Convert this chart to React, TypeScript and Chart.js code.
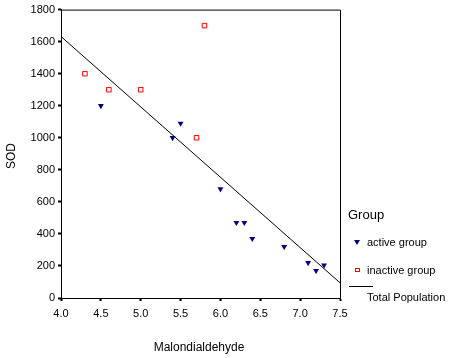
import React, { useEffect, useRef } from "react";
import { Chart, registerables } from "chart.js";

Chart.register(...registerables);

// Data
const activeX = [4.5, 5.4, 5.5, 6.0, 6.2, 6.3, 6.4, 6.8, 7.1, 7.2, 7.3];
const activeY = [1200, 1000, 1090, 680, 470, 470, 370, 320, 220, 170, 205];
const inactiveX = [4.3, 4.6, 5.0, 5.7, 5.8];
const inactiveY = [1400, 1300, 1300, 1000, 1700];
const fitX = [4.0, 7.5];
const fitY = [1632, 95];

const xTitle = "Malondialdehyde";
const yTitle = "SOD";
const legendTitle = "Group";
const seriesNames = ["active group", "inactive group", "Total Population"];

const FONT = "'Liberation Sans', Arial, sans-serif";

const overlay = {
  id: "overlay",
  afterDraw(chart: any) {
    const ctx = chart.ctx as CanvasRenderingContext2D;
    const a = chart.chartArea;
    ctx.save();
    // box
    ctx.strokeStyle = "#000";
    ctx.lineWidth = 1;
    ctx.beginPath();
    ctx.moveTo(a.left, a.top + 0.5);
    ctx.lineTo(a.right + 0.5, a.top + 0.5);
    ctx.lineTo(a.right + 0.5, a.bottom);
    ctx.stroke();

    ctx.fillStyle = "#000";
    // x title
    ctx.font = `12px ${FONT}`;
    ctx.textAlign = "center";
    ctx.textBaseline = "middle";
    ctx.fillText(xTitle, 199, 348);
    // y title
    ctx.save();
    ctx.translate(12, 156);
    ctx.rotate(-Math.PI / 2);
    ctx.fillText(yTitle, 0, 0);
    ctx.restore();

    // legend
    ctx.textAlign = "left";
    ctx.font = `13px ${FONT}`;
    ctx.fillText(legendTitle, 348, 215);
    ctx.font = `11px ${FONT}`;
    // active marker
    ctx.fillStyle = "#000080";
    ctx.beginPath();
    ctx.moveTo(354, 240);
    ctx.lineTo(360, 240);
    ctx.lineTo(357, 245);
    ctx.closePath();
    ctx.fill();
    ctx.fillStyle = "#000";
    ctx.fillText(seriesNames[0], 367, 243);
    // inactive marker
    ctx.strokeStyle = "#ff0000";
    ctx.strokeRect(355.5, 268.5, 4, 3);
    ctx.fillText(seriesNames[1], 367, 271);
    // line
    ctx.strokeStyle = "#000";
    ctx.beginPath();
    ctx.moveTo(349, 286.5);
    ctx.lineTo(373, 286.5);
    ctx.stroke();
    ctx.fillText(seriesNames[2], 367, 298);
    ctx.restore();
  },
};

export default function App() {
  const ref = useRef<HTMLCanvasElement>(null);
  useEffect(() => {
    document.body.style.margin = "0";
    const chart = new Chart(ref.current!, {
      type: "scatter",
      data: {
        datasets: [
          {
            label: seriesNames[0],
            data: activeX.map((x, i) => ({ x, y: activeY[i] })),
            pointStyle: "triangle",
            rotation: 180,
            pointRadius: 3.4,
            backgroundColor: "#000080",
            borderColor: "#000080",
            borderWidth: 0,
          },
          {
            label: seriesNames[1],
            data: inactiveX.map((x, i) => ({ x, y: inactiveY[i] })),
            pointStyle: "rect",
            pointRadius: 3.2,
            backgroundColor: "rgba(0,0,0,0)",
            borderColor: "#ff0000",
            borderWidth: 1,
          },
          {
            label: seriesNames[2],
            data: fitX.map((x, i) => ({ x, y: fitY[i] })),
            showLine: true,
            pointRadius: 0,
            borderColor: "#000",
            borderWidth: 1,
          },
        ],
      },
      options: {
        animation: false,
        responsive: false,
        layout: { padding: { top: 7, right: 109, left: 0, bottom: 0 } },
        plugins: { legend: { display: false }, tooltip: { enabled: false } },
        scales: {
          x: {
            type: "linear",
            min: 4,
            max: 7.5,
            afterFit: (s: any) => {
              s.height = 60;
            },
            ticks: {
              stepSize: 0.5,
              callback: (v: any) => Number(v).toFixed(1),
              color: "#000",
              font: { family: FONT, size: 11 },
              padding: 6,
              maxRotation: 0,
            },
            grid: {
              drawOnChartArea: false,
              drawTicks: true,
              tickLength: 3,
              tickWidth: 2,
              tickColor: "#000",
            },
            border: { color: "#000", width: 1 },
          },
          y: {
            type: "linear",
            min: 0,
            max: 1800,
            afterFit: (s: any) => {
              s.width = 61;
            },
            ticks: {
              stepSize: 200,
              callback: (v: any) => String(v),
              color: "#000",
              font: { family: FONT, size: 11 },
              padding: 3,
            },
            grid: {
              drawOnChartArea: false,
              drawTicks: true,
              tickLength: 3,
              tickWidth: 2,
              tickColor: "#000",
            },
            border: { color: "#000", width: 1 },
          },
        },
      },
      plugins: [overlay],
    });
    return () => chart.destroy();
  }, []);
  return <canvas ref={ref} width={449} height={358} style={{ display: "block" }} />;
}
